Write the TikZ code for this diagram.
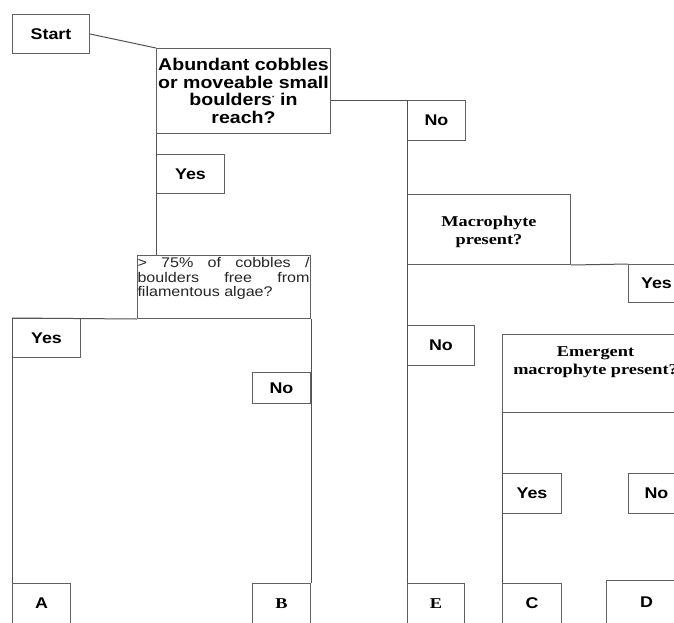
\documentclass[tikz,border=0pt]{standalone}
\usepackage{fontspec}
\setmainfont{Liberation Sans}
\newfontfamily\bsans[FakeStretch=1.15]{Liberation Sans}
\newfontfamily\bserif[FakeStretch=1.22]{Liberation Serif}
\begin{document}
\begin{tikzpicture}[x=1pt,y=-1pt,
  bx/.style={draw=black!62, line width=1pt, anchor=north west, inner sep=0pt, align=center, fill=white},
  sb/.style={font=\bsans\bfseries\fontsize{15.5}{17.5}\selectfont},
  rb/.style={font=\bserif\bfseries\fontsize{15}{18}\selectfont},
  ln/.style={draw=black!68, line width=1pt}]
\useasboundingbox (0,0) rectangle (674,622);
\clip (0,0) rectangle (674,622);
\fill[white] (0,0) rectangle (674,622);

% nodes
\node[bx,sb,minimum width=77pt,minimum height=39pt] (start) at (12,14) {Start};
\node[bx,font=\bsans\bfseries\fontsize{17}{17.5}\selectfont,minimum width=174pt,minimum height=85pt] (q1) at (156,48) {Abundant cobbles\\or moveable small\\boulders\textsuperscript{\tiny *} in\\reach?};
\node[bx,sb,minimum width=68pt,minimum height=39pt] (yes1) at (156,154) {Yes};
\node[bx,minimum width=173pt,minimum height=63pt] (q2) at (137,255) {\parbox[c][63pt][t]{173pt}{\fontsize{14}{14.5}\selectfont\bsans\color{black!85}\vspace{2pt}%
\makebox[172pt][s]{> 75\% of cobbles /}\\
\makebox[172pt][s]{boulders free from}\\
filamentous algae?}};
\node[bx,sb,minimum width=68pt,minimum height=39pt] (yes2) at (12,318) {Yes};
\node[bx,sb,minimum width=58pt,minimum height=31pt] (no2) at (252,372) {No};
\node[bx,sb,minimum width=58pt,minimum height=40pt] (A) at (12,583) {A};
\node[bx,rb,minimum width=58pt,minimum height=40pt] (B) at (252,583) {B};

\node[bx,sb,minimum width=58pt,minimum height=40pt] (no1) at (407,100) {No};
\node[bx,minimum width=163pt,minimum height=70pt] (macro) at (407,194) {\parbox[c][70pt][t]{163pt}{\centering\bserif\bfseries\fontsize{15}{17.5}\selectfont\vspace{22pt}Macrophyte\\present?}};
\node[bx,sb,minimum width=56pt,minimum height=38pt] (yes3) at (628,264) {Yes};
\node[bx,sb,minimum width=67pt,minimum height=40pt] (no3) at (407,325) {No};
\node[bx,minimum width=186pt,minimum height=78pt] (emerg) at (502,334) {\parbox[c][78pt][t]{186pt}{\centering\bserif\bfseries\fontsize{15}{18}\selectfont\vspace{12pt}Emergent\\macrophyte present?}};
\node[bx,sb,minimum width=59pt,minimum height=40pt] (yes4) at (502,473) {Yes};
\node[bx,sb,minimum width=56pt,minimum height=40pt] (no4) at (628,473) {No};
\node[bx,rb,minimum width=57pt,minimum height=40pt] (E) at (407,583) {E};
\node[bx,sb,minimum width=59pt,minimum height=40pt] (C) at (502,583) {C};
\node[bx,sb,minimum width=80pt,minimum height=44pt] (D) at (606,580) {D};

% connectors
\draw[ln] (start.east) -- (q1.north west);
\draw[ln] (q1.east |- no1.north) -- (no1.north west);
\draw[ln] (q1.south west) -- (q1.south west |- q2.north);
\draw[ln] (q2.south west) -- (yes2.north west);
\draw[ln] (yes2.north west) -- (A.north west);
\draw[ln] (q2.south east) -- (B.north east);
\draw[ln] (no1.north west) -- (E.north west);
\draw[ln] (macro.south east) -- (yes3.north west);
\draw[ln] (emerg.south west) -- (C.north west);
\end{tikzpicture}
\end{document}
